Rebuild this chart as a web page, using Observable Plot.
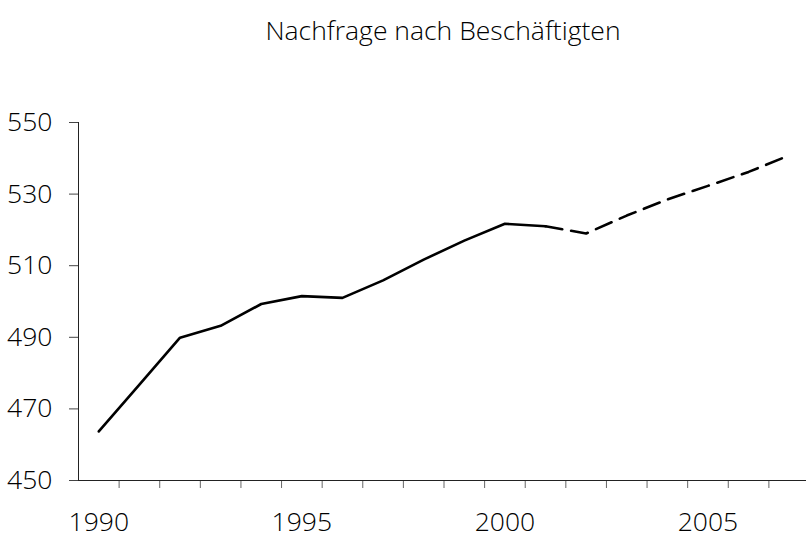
<!DOCTYPE html>
<html><head><meta charset="utf-8">
<script src="https://cdn.jsdelivr.net/npm/d3@7"></script>
<script src="https://cdn.jsdelivr.net/npm/@observablehq/plot@0.6"></script>
<style>
body{margin:0;background:#fff;font-family:"Open Sans",sans-serif;}
#title{height:60px;width:806px;text-align:center;font-size:26.5px;font-weight:300;line-height:60px;padding-left:80px;box-sizing:border-box;color:#000;}
</style></head>
<body>
<div id="title">Nachfrage nach Beschäftigten</div>
<div id="chart"></div>
<script>
const title = "Nachfrage nach Beschäftigten";
const years = [1990,1991,1992,1993,1994,1995,1996,1997,1998,1999,2000,2001,2002,2003,2004,2005,2006,2007];
const values = [463.7,476.8,489.9,493.2,499.3,501.5,501.0,505.9,511.7,517.0,521.7,521.0,519.0,524.0,528.5,532.3,536.2,540.8];
const lastActual = 2001;
const yTicks = [450,470,490,510,530,550];
const xLabels = [1990,1995,2000,2005];

const data = years.map((y,i)=>({year:y, value:values[i]}));
const actual = data.filter(d=>d.year<=lastActual);
const forecast = data.filter(d=>d.year>=lastActual);
const bounds = years.slice(0,-1).map(y=>y+0.5);

const chart = Plot.plot({
  width:806, height:479,
  marginTop:62, marginBottom:59, marginLeft:78, marginRight:0,
  style:{fontFamily:'"Open Sans",sans-serif', fontSize:"26px", fontWeight:300, color:"#000", background:"#fff"},
  x:{domain:[1989.5,2007.5], range:[78,809]},
  y:{domain:[450,550]},
  marks:[
    Plot.axisY({ticks:yTicks, tickSize:9, tickPadding:17, label:null, stroke:"#444", fontSize:26.5}),
    Plot.axisX({ticks:bounds, tickSize:8, tickFormat:()=>"", label:null, stroke:"#666"}),
    Plot.axisX({ticks:xLabels, tickSize:0, tickPadding:32, tickFormat:d=>String(d), label:null, fontSize:26.5}),
    Plot.ruleX([1989.5], {stroke:"#222", strokeWidth:1}),
    Plot.ruleY([450], {stroke:"#222", strokeWidth:1}),
    Plot.line(actual, {x:"year", y:"value", stroke:"#000", strokeWidth:2.6}),
    Plot.line(forecast, {x:"year", y:"value", stroke:"#000", strokeWidth:2.6, strokeDasharray:"17,9"})
  ]
});
document.getElementById("chart").appendChild(chart);
</script>
</body></html>
